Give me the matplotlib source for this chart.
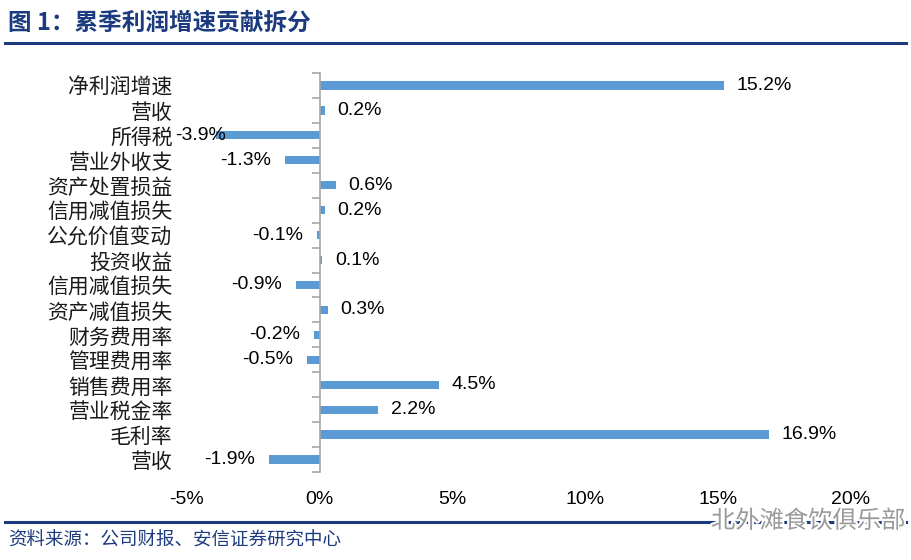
import matplotlib
matplotlib.use("Agg")
import matplotlib.pyplot as plt
from matplotlib.lines import Line2D
import matplotlib.patheffects as pe

# data, top to bottom as in the source
categories = ["净利润增速", "营收", "所得税", "营业外收支", "资产处置损益", "信用减值损失",
              "公允价值变动", "投资收益", "信用减值损失", "资产减值损失", "财务费用率",
              "管理费用率", "销售费用率", "营业税金率", "毛利率", "营收"]
values = [15.2, 0.2, -3.9, -1.3, 0.6, 0.2, -0.1, 0.1, -0.9, 0.3, -0.2, -0.5, 4.5, 2.2, 16.9, -1.9]
xticks = [-5, 0, 5, 10, 15, 20]

title = "图 1：累季利润增速贡献拆分"
source = "资料来源：公司财报、安信证券研究中心"
watermark = "北外滩食饮俱乐部"

navy = "#1C3A7E"
bar_color = "#5B9BD5"
cjk = ["Noto Sans CJK SC", "DejaVu Sans"]
num_font = ["Liberation Sans", "DejaVu Sans"]

plt.rcParams["font.family"] = cjk

fig = plt.figure(figsize=(9.11, 5.6), dpi=100)
ax = fig.add_axes([187 / 911, 1 - 472 / 560, 664 / 911, 399 / 560])

pos = list(range(len(categories)))
ax.barh(pos, values, height=0.33, color=bar_color)
ax.set_ylim(len(categories) - 0.5, -0.5)
ax.set_xlim(-5, 20)

# y axis sits at zero, with ticks between categories
for side in ["top", "right", "bottom"]:
    ax.spines[side].set_visible(False)
ax.spines["left"].set_position(("data", 0))
ax.spines["left"].set_color("#A6A6A6")
ax.spines["left"].set_linewidth(1.2)
ax.set_yticks(pos)
ax.set_yticklabels(categories, fontsize=15, color="#1A1A1A")
ax.set_yticks([p - 0.5 for p in pos] + [len(pos) - 0.5], minor=True)
ax.tick_params(axis="y", which="major", length=0, pad=106)
ax.tick_params(axis="y", which="minor", length=6, color="#A6A6A6", width=1.2, direction="out")

ax.set_xticks(xticks)
ax.set_xticklabels([f"{t}%" for t in xticks], fontsize=14, family=num_font)
ax.tick_params(axis="x", length=0, pad=14)

# value labels
for p, v in zip(pos, values):
    txt = f"{v:.1f}%"
    if v >= 0:
        ax.annotate(txt, (v, p), xytext=(9, 0), textcoords="offset points",
                    ha="left", va="center", fontsize=14, family=num_font)
    elif v - 0.53 - 1.8 < -5.5:
        # too long to fit left of the bar end: pin it at the plot edge
        ax.text(-5.45, p, txt, ha="left", va="center", fontsize=14, family=num_font)
    else:
        ax.annotate(txt, (v, p), xytext=(-10, 0), textcoords="offset points",
                    ha="right", va="center", fontsize=14, family=num_font)

# header and footer
fig.text(8 / 911, 1 - 23 / 560, title, fontsize=17, weight="bold", color=navy, va="center")
fig.add_artist(Line2D([5 / 911, 906 / 911], [1 - 43 / 560] * 2, transform=fig.transFigure,
                      color=navy, lw=2.2))
fig.add_artist(Line2D([5 / 911, 906 / 911], [1 - 522 / 560] * 2, transform=fig.transFigure,
                      color=navy, lw=2.2))
fig.text(8 / 911, 1 - 541 / 560, source, fontsize=13.3, color=navy, va="center")
wm = fig.text(905 / 911, 1 - 521 / 560, watermark, fontsize=17.5, color="#9A9A9A",
              ha="right", va="center")
wm.set_path_effects([pe.withStroke(linewidth=3, foreground="white")])

fig.savefig("out.png", dpi=100)
